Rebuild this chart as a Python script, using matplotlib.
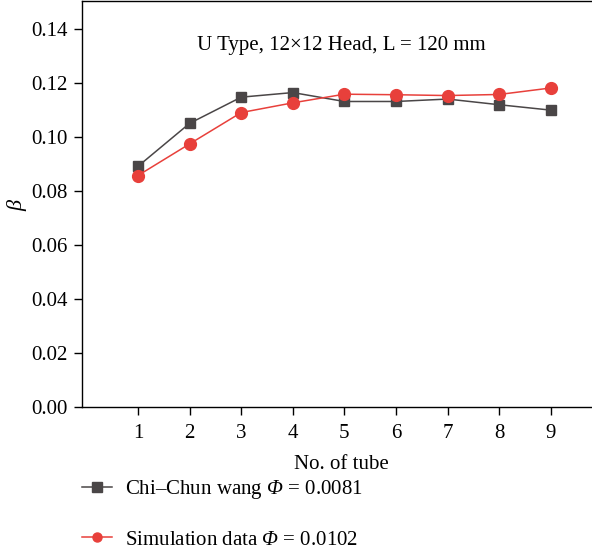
import numpy as np
import matplotlib
matplotlib.use('Agg')
import matplotlib.pyplot as plt

# data
tubes = [1, 2, 3, 4, 5, 6, 7, 8, 9]
chi_chun = [0.0891, 0.1050, 0.1147, 0.1164, 0.1131, 0.1131, 0.1140, 0.1119, 0.1099]
simulation = [0.0857, 0.0974, 0.1090, 0.1126, 0.1158, 0.1156, 0.1153, 0.1157, 0.1181]
yticks = [0.00, 0.02, 0.04, 0.06, 0.08, 0.10, 0.12, 0.14]

plt.rcParams['font.family'] = ['Liberation Serif', 'DejaVu Serif']
# math only used for the greek symbols, which are italic in the figure
plt.rcParams['mathtext.fontset'] = 'custom'
plt.rcParams['mathtext.rm'] = 'Liberation Serif:italic'
plt.rcParams['mathtext.it'] = 'Liberation Serif:italic'

W, H = 592, 555
fig = plt.figure(figsize=(W / 100, H / 100), dpi=100)

# axes placed in pixel units, right side runs off the canvas
px = 51.6
x0, x1 = -0.085, 9.95
left = 82
bottom = 407
top = 1
ax = fig.add_axes([left / W, (H - bottom) / H, (x1 - x0) * px / W, (bottom - top) / H])

black = '#4a4647'
red = '#e8403b'
fs = 15
ax.plot(tubes, chi_chun, color=black, lw=1.1, marker='s', ms=7.5,
        label=r'Chi–Chun wang $\Phi$ = 0.0081')
ax.plot(tubes, simulation, color=red, lw=1.1, marker='o', ms=8.5,
        label=r'Simulation data $\Phi$ = 0.0102')

ax.set_xlim(x0, x1)
ax.set_ylim(0, 0.1503)
ax.set_xticks(tubes)
ax.set_yticks(yticks)
ax.set_yticklabels(['%.2f' % v for v in yticks])
ax.spines['right'].set_visible(False)
for s in ['left', 'bottom', 'top']:
    ax.spines[s].set_linewidth(1.0)
ax.tick_params(direction='out', length=6, width=1, labelsize=fs, pad=4)
ax.tick_params(axis='x', pad=6)

ax.set_xlabel('No. of tube', fontsize=fs, labelpad=9)
ax.set_ylabel(r'$\beta$', fontsize=fs + 1, labelpad=2)
fig.text(341 / W, 1 - 45 / H, 'U Type, 12×12 Head, L = 120 mm', fontsize=fs,
         ha='center', va='center')

leg = ax.legend(loc='upper left', bbox_to_anchor=(82 / W, 1 - 478 / H),
                bbox_transform=fig.transFigure, frameon=False, fontsize=fs,
                handlelength=1.45, labelspacing=1.4, handletextpad=0.62,
                borderpad=0, borderaxespad=0)
for h in leg.legend_handles:
    h.set_markersize(6.5)

fig.savefig('out.png', dpi=100)
